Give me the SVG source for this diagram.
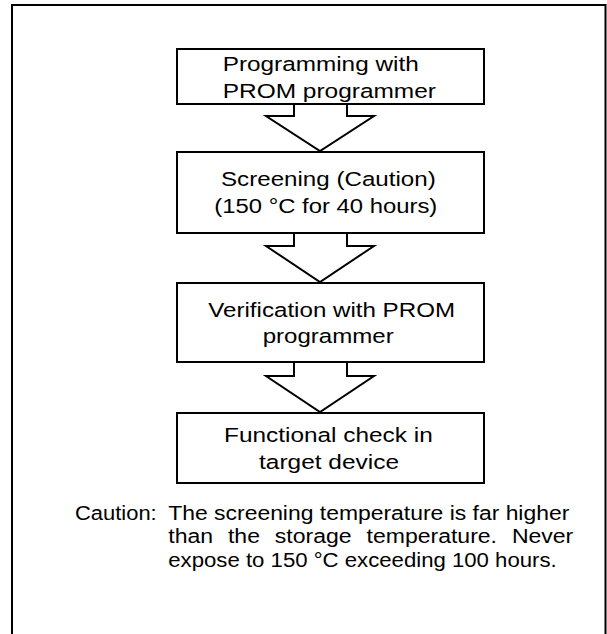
<svg xmlns="http://www.w3.org/2000/svg" width="607" height="634" viewBox="0 0 607 634">
<style>
.frame{fill:none;stroke:#000;stroke-width:2}
.box{fill:#fff;stroke:#000;stroke-width:2}
.arrow{fill:#fff;stroke:#000;stroke-width:2;stroke-linejoin:miter}
.t{font-family:"Liberation Sans",Arial,sans-serif;font-size:20.5px;fill:#000}
.c{font-family:"Liberation Sans",Arial,sans-serif;font-size:19.5px;fill:#000}
</style>
<rect width="607" height="634" fill="#fff"/>
<path class="frame" d="M12,640 V5 H605.5 V640"/>
<g id="connectors">
<path class="arrow" d="M294,104 V116 H266 L320,151 L374,116 H347 V104"/>
<path class="arrow" d="M294,233 V246 H266 L320,282 L374,246 H347 V233"/>
<path class="arrow" d="M294,362 V376 H266 L320,412 L374,376 H347 V362"/>
</g>
<g id="node1">
<rect class="box" x="177" y="49" width="307" height="55"/>
<text class="t" x="222.7" y="70.5" textLength="196" lengthAdjust="spacingAndGlyphs">Programming with</text>
<text class="t" x="222.7" y="97.5" textLength="213.3" lengthAdjust="spacingAndGlyphs">PROM programmer</text>
</g>
<g id="node2">
<rect class="box" x="177" y="152" width="307" height="81"/>
<text class="t" x="221" y="186" textLength="214.7" lengthAdjust="spacingAndGlyphs">Screening (Caution)</text>
<text class="t" x="214.3" y="213" textLength="223" lengthAdjust="spacingAndGlyphs">(150 °C for 40 hours)</text>
</g>
<g id="node3">
<rect class="box" x="177" y="283" width="307" height="79"/>
<text class="t" x="208.3" y="316.5" textLength="246.7" lengthAdjust="spacingAndGlyphs">Verification with PROM</text>
<text class="t" x="262.7" y="343" textLength="131" lengthAdjust="spacingAndGlyphs">programmer</text>
</g>
<g id="node4">
<rect class="box" x="177" y="413" width="307" height="70"/>
<text class="t" x="224" y="441.7" textLength="208.7" lengthAdjust="spacingAndGlyphs">Functional check in</text>
<text class="t" x="259" y="469.3" textLength="140" lengthAdjust="spacingAndGlyphs">target device</text>
</g>
<g id="caution">
<text class="c" x="75" y="519.5" textLength="81.7" lengthAdjust="spacingAndGlyphs">Caution:</text>
<text class="c" x="168.3" y="519.5" textLength="401" lengthAdjust="spacingAndGlyphs">The screening temperature is far higher</text>
<text class="c" x="168.3" y="543.2" textLength="405" lengthAdjust="spacingAndGlyphs" word-spacing="7.2">than the storage temperature. Never</text>
<text class="c" x="168.3" y="566.8" textLength="388.4" lengthAdjust="spacingAndGlyphs">expose to 150 °C exceeding 100 hours.</text>
</g>
</svg>
